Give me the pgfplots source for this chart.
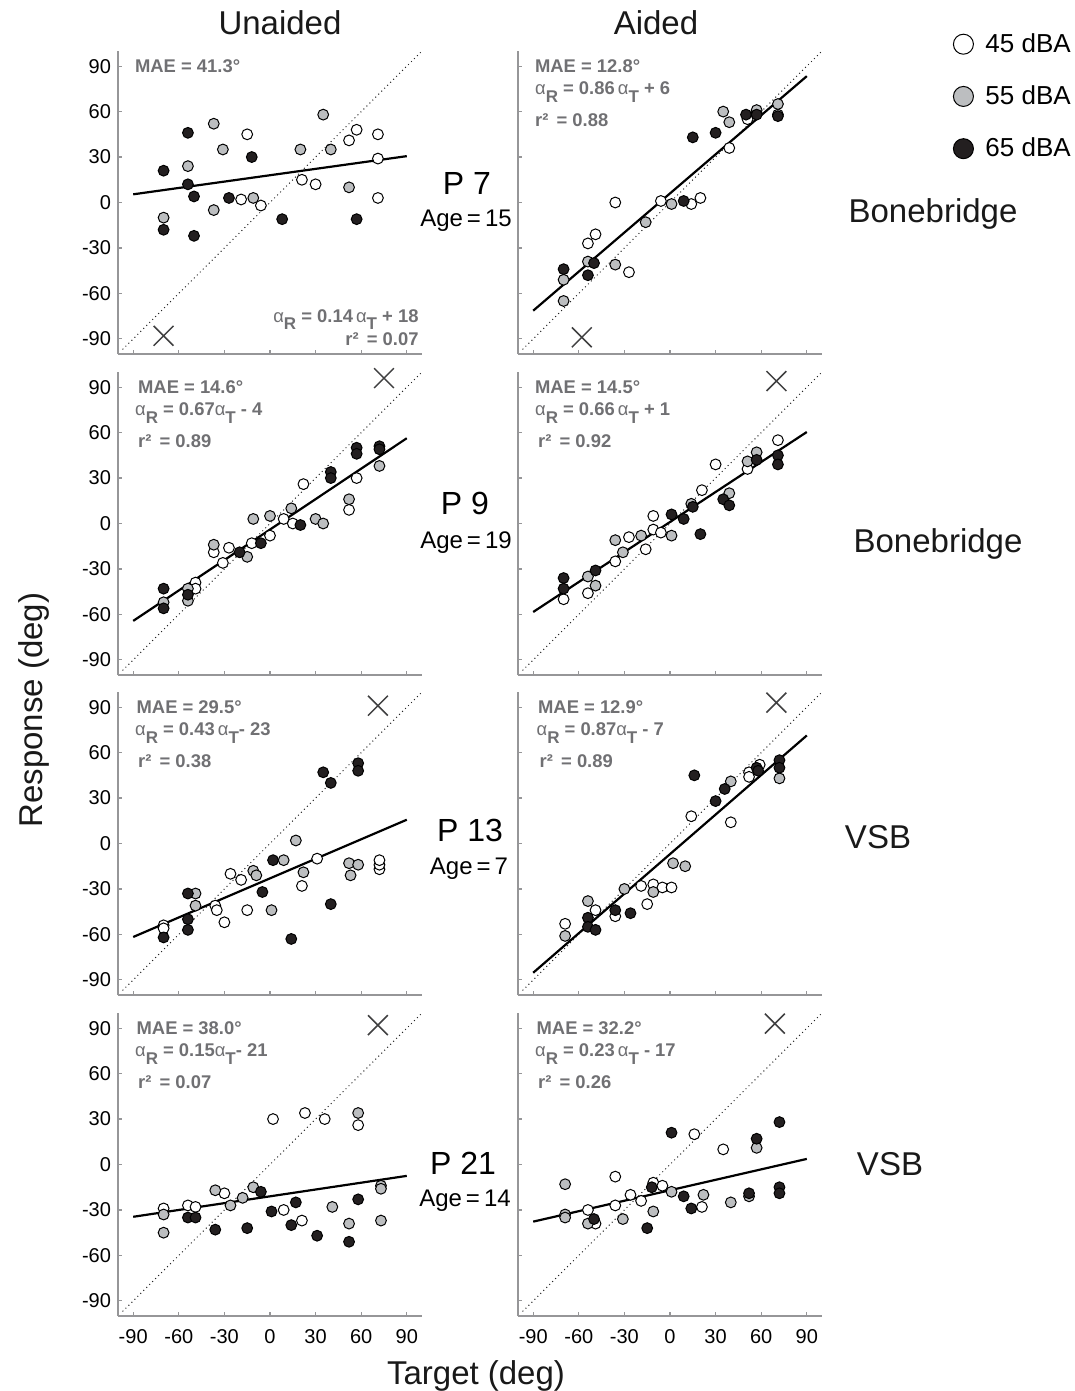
\documentclass[border=0pt]{standalone}
\usepackage{fontspec}
\setmainfont{Liberation Sans}
\usepackage{pgfplots}
\pgfplotsset{compat=1.18}
\definecolor{axgray}{RGB}{150,150,152}
\definecolor{txtgray}{RGB}{112,112,115}
\definecolor{ptgray}{RGB}{188,190,192}
\definecolor{ptblack}{RGB}{35,31,32}
\definecolor{xgray}{RGB}{64,64,65}
\newcommand{\al}{{\mdseries α}}
\newcommand{\sub}[1]{\raisebox{-0.75ex}{\fontsize{8.5}{8.5}\selectfont\bfseries #1}}
\pgfplotsset{
  panel/.style={
    scale only axis, width=152pt, height=151.5pt,
    xmin=-100, xmax=100, ymin=-100, ymax=100,
    axis lines*=left,
    axis line style={draw=axgray, line width=0.6pt, -},
    xtick={-90,-60,-30,0,30,60,90}, ytick={-90,-60,-30,0,30,60,90},
    xticklabels={}, yticklabels={},
    tick style={draw=axgray, line width=0.6pt},
    tick align=inside, major tick length=2.2pt,
    tick label style={font=\fontsize{10}{11}\selectfont, text=black},
    clip=false, anchor=south west,
  },
  ylab/.style={yticklabels={-90,-60,-30,0,30,60,90}},
  xlab/.style={xticklabels={-90,-60,-30,0,30,60,90}, xticklabel style={yshift=-3pt}},
  wpt/.style={only marks, mark=*, mark size=2.7pt, mark options={fill=white, draw=black, line width=0.5pt}},
  gpt/.style={only marks, mark=*, mark size=2.7pt, mark options={fill=ptgray, draw=black, line width=0.5pt}},
  bpt/.style={only marks, mark=*, mark size=2.7pt, mark options={fill=ptblack, draw=black, line width=0.5pt}},
  reg/.style={black, line width=1.1pt, no marks},
  diag/.style={black!85, line width=0.5pt, dash pattern=on 0.5pt off 1.6pt, no marks},
  xm/.style={only marks, mark=x, mark size=7pt, mark options={draw=xgray, line width=0.75pt}},
}
\tikzset{anno/.style={font=\fontsize{9.2}{10}\selectfont\bfseries, text=txtgray, inner sep=0pt}}
\begin{document}
\begin{tikzpicture}
\path[use as bounding box] (0pt,0pt) rectangle (537.5pt,-695.5pt);

% ---------------- Row 1 left: P7 unaided
\begin{axis}[panel, ylab, at={(59pt,-177pt)}]
\addplot[diag] coordinates {(-97,-97) (100,100)};
\addplot[wpt] coordinates {(-15,45) (-19,2) (-6,-2) (21,15) (30,12) (52,41) (57,48) (71,45) (71,29) (71,3)};
\addplot[gpt] coordinates {(-37,52) (-31,35) (-54,24) (-70,-10) (-37,-5) (-11,3) (20,35) (35,58) (40,35) (52,10)};
\addplot[bpt] coordinates {(-70,21) (-54,46) (-54,12) (-50,4) (-70,-18) (-50,-22) (-27,3) (-12,30) (8,-11) (57,-11)};
\addplot[reg] coordinates {(-90,5.4) (90,30.6)};
\addplot[xm] coordinates {(-70,-88)};
\node[anno, anchor=base west] at (axis cs:-89,86) {MAE = 41.3°};
\node[anno, anchor=base east] at (axis cs:98,-79) {\al\sub{R} = 0.14\,\al\sub{T} + 18};
\node[anno, anchor=base east] at (axis cs:98,-94.5) {r² \,= 0.07};
\end{axis}

% ---------------- Row 1 right: P7 aided
\begin{axis}[panel, at={(259pt,-177pt)},
  legend image code/.code={\draw[#1, mark size=5pt] plot coordinates {(0pt,0pt)};},
  legend style={at={(1.431,1.073)}, anchor=north west, draw=none, fill=none, inner sep=0pt,
    font=\fontsize{13}{15}\selectfont, row sep=11.2pt, legend cell align=left,
    /tikz/every odd column/.append style={column sep=4pt}}]
\addplot[diag, forget plot] coordinates {(-97,-97) (100,100)};
\addplot[wpt] coordinates {(-54,-27) (-49,-21) (-36,0) (-27,-46) (-6,1) (14,-1) (20,3) (39,36) (51,55) (71,58) (57,59)};
\addlegendentry{45 dBA}
\addplot[gpt] coordinates {(-70,-51) (-70,-65) (-54,-39) (-36,-41) (-16,-13) (1,-1) (35,60) (39,53) (57,61) (71,65)};
\addlegendentry{55 dBA}
\addplot[bpt] coordinates {(-70,-44) (-54,-48) (-50,-40) (9,1) (15,43) (30,46) (50,58) (57,58) (71,57)};
\addlegendentry{65 dBA}
\addplot[reg, forget plot] coordinates {(-90,-71.4) (90,83.4)};
\addplot[xm, forget plot] coordinates {(-58,-89)};
\node[anno, anchor=base west] at (axis cs:-89,86) {MAE = 12.8°};
\node[anno, anchor=base west] at (axis cs:-89,71) {\al\sub{R} = 0.86\,\al\sub{T} + 6};
\node[anno, anchor=base west] at (axis cs:-89,50) {r² \,= 0.88};
\end{axis}

% ---------------- Row 2 left: P9 unaided
\begin{axis}[panel, ylab, at={(59pt,-337.5pt)}]
\addplot[diag] coordinates {(-97,-97) (100,100)};
\addplot[wpt] coordinates {(-49,-39) (-49,-43) (-37,-19) (-31,-26) (-27,-16) (-12,-13) (0,-8) (9,3) (15,0) (22,26) (52,9) (57,30)};
\addplot[gpt] coordinates {(-70,-52) (-54,-43) (-54,-51) (-37,-14) (-15,-22) (-11,3) (0,5) (14,10) (30,3) (35,0) (52,16) (72,38)};
\addplot[bpt] coordinates {(-70,-43) (-70,-56) (-54,-47) (-20,-19) (-6,-13) (20,-1) (40,34) (40,30) (57,50) (57,46) (72,51) (72,49)};
\addplot[reg] coordinates {(-90,-64.3) (90,56.3)};
\addplot[xm] coordinates {(75,96)};
\node[anno, anchor=base west] at (axis cs:-87,86) {MAE = 14.6°};
\node[anno, anchor=base west] at (axis cs:-89,71) {\al\sub{R} = 0.67\al\sub{T} - 4};
\node[anno, anchor=base west] at (axis cs:-87,50) {r² \,= 0.89};
\end{axis}

% ---------------- Row 2 right: P9 aided
\begin{axis}[panel, at={(259pt,-337.5pt)}]
\addplot[diag] coordinates {(-97,-97) (100,100)};
\addplot[wpt] coordinates {(-70,-50) (-54,-46) (-36,-25) (-27,-9) (-16,-17) (-11,-4) (-11,5) (-6,-6) (21,22) (30,39) (51,36) (71,55)};
\addplot[gpt] coordinates {(-54,-35) (-49,-41) (-36,-11) (-31,-19) (-19,-8) (1,-8) (14,13) (39,20) (51,41) (57,47)};
\addplot[bpt] coordinates {(-70,-36) (-70,-43) (-49,-31) (1,6) (9,3) (15,11) (20,-7) (35,16) (39,12) (57,42) (71,45) (71,39)};
\addplot[reg] coordinates {(-90,-58.4) (90,60.4)};
\addplot[xm] coordinates {(70,94)};
\node[anno, anchor=base west] at (axis cs:-89,86) {MAE = 14.5°};
\node[anno, anchor=base west] at (axis cs:-89,71) {\al\sub{R} = 0.66\,\al\sub{T} + 1};
\node[anno, anchor=base west] at (axis cs:-87,50) {r² \,= 0.92};
\end{axis}

% ---------------- Row 3 left: P13 unaided
\begin{axis}[panel, ylab, at={(59pt,-497.5pt)}]
\addplot[diag] coordinates {(-97,-97) (100,100)};
\addplot[wpt] coordinates {(-70,-54) (-70,-56) (-36,-41) (-35,-44) (-30,-52) (-26,-20) (-19,-24) (-15,-44) (21,-28) (31,-10) (72,-17) (72,-14) (72,-11)};
\addplot[gpt] coordinates {(-49,-33) (-49,-41) (-11,-18) (-9,-21) (1,-44) (9,-11) (17,2) (22,-19) (52,-13) (53,-21) (58,-14)};
\addplot[bpt] coordinates {(-70,-62) (-54,-33) (-54,-50) (-54,-57) (-5,-32) (2,-11) (14,-63) (35,47) (40,40) (58,53) (58,48) (40,-40)};
\addplot[reg] coordinates {(-90,-61.7) (90,15.7)};
\addplot[xm] coordinates {(71,91)};
\node[anno, anchor=base west] at (axis cs:-88,86) {MAE = 29.5°};
\node[anno, anchor=base west] at (axis cs:-89,71) {\al\sub{R} = 0.43\,\al\sub{T}- 23};
\node[anno, anchor=base west] at (axis cs:-87,50) {r² \,= 0.38};
\end{axis}

% ---------------- Row 3 right: P13 aided
\begin{axis}[panel, at={(259pt,-497.5pt)}]
\addplot[diag] coordinates {(-97,-97) (100,100)};
\addplot[wpt] coordinates {(-69,-53) (-49,-44) (-36,-48) (-19,-28) (-15,-40) (-11,-27) (-5,-29) (1,-29) (14,18) (40,14) (52,47) (52,44) (59,52)};
\addplot[gpt] coordinates {(-69,-61) (-54,-38) (-30,-30) (-11,-32) (2,-13) (10,-15) (40,41) (72,43)};
\addplot[bpt] coordinates {(-54,-49) (-54,-55) (-49,-57) (-36,-44) (-26,-46) (16,45) (30,28) (36,36) (57,50) (58,48) (72,55) (72,50)};
\addplot[reg] coordinates {(-90,-85.3) (90,71.3)};
\addplot[xm] coordinates {(70,93)};
\node[anno, anchor=base west] at (axis cs:-87,86) {MAE = 12.9°};
\node[anno, anchor=base west] at (axis cs:-88,71) {\al\sub{R} = 0.87\al\sub{T} - 7};
\node[anno, anchor=base west] at (axis cs:-86,50) {r² \,= 0.89};
\end{axis}

% ---------------- Row 4 left: P21 unaided
\begin{axis}[panel, ylab, xlab, at={(59pt,-658pt)}]
\addplot[diag] coordinates {(-97,-97) (100,100)};
\addplot[wpt] coordinates {(-70,-29) (-54,-27) (-49,-28) (-30,-19) (2,30) (9,-30) (21,-37) (23,34) (36,30) (58,26)};
\addplot[gpt] coordinates {(-70,-33) (-70,-45) (-36,-17) (-26,-27) (-18,-22) (-11,-15) (41,-28) (52,-39) (58,34) (73,-14) (73,-16) (73,-37)};
\addplot[bpt] coordinates {(-54,-35) (-49,-35) (-36,-43) (-15,-42) (-6,-18) (1,-31) (14,-40) (17,-25) (31,-47) (52,-51) (58,-23)};
\addplot[reg] coordinates {(-90,-34.5) (90,-7.5)};
\addplot[xm] coordinates {(71,92)};
\node[anno, anchor=base west] at (axis cs:-88,86) {MAE = 38.0°};
\node[anno, anchor=base west] at (axis cs:-89,71) {\al\sub{R} = 0.15\al\sub{T}- 21};
\node[anno, anchor=base west] at (axis cs:-87,50) {r² \,= 0.07};
\end{axis}

% ---------------- Row 4 right: P21 aided
\begin{axis}[panel, xlab, at={(259pt,-658pt)}]
\addplot[diag] coordinates {(-97,-97) (100,100)};
\addplot[wpt] coordinates {(-54,-30) (-49,-39) (-36,-8) (-36,-27) (-26,-20) (-19,-24) (-11,-12) (-5,-14) (16,20) (21,-28) (35,10)};
\addplot[gpt] coordinates {(-69,-13) (-69,-33) (-69,-35) (-54,-39) (-31,-36) (-11,-31) (1,-18) (22,-20) (40,-25) (52,-21) (57,11)};
\addplot[bpt] coordinates {(-50,-36) (-15,-42) (-12,-15) (1,21) (9,-21) (14,-29) (57,17) (52,-19) (72,28) (72,-15) (72,-19)};
\addplot[reg] coordinates {(-90,-37.7) (90,3.7)};
\addplot[xm] coordinates {(69,93)};
\node[anno, anchor=base west] at (axis cs:-88,86) {MAE = 32.2°};
\node[anno, anchor=base west] at (axis cs:-89,71) {\al\sub{R} = 0.23\,\al\sub{T} - 17};
\node[anno, anchor=base west] at (axis cs:-87,50) {r² \,= 0.26};
\end{axis}

% ---------------- outer labels
\tikzset{big/.style={font=\fontsize{16.5}{18}\selectfont, inner sep=0pt, text=black!90},
         pl/.style={font=\fontsize{16}{18}\selectfont, inner sep=0pt, anchor=base},
         ag/.style={font=\fontsize{12}{14}\selectfont, inner sep=0pt, anchor=base}}
\node[big, anchor=base] at (140pt,-17.5pt) {Unaided};
\node[big, anchor=base] at (328pt,-17.5pt) {Aided};
\node[big, rotate=90] at (17pt,-355pt) {Response (deg)};
\node[big, anchor=base] at (238pt,-692pt) {Target (deg)};

\node[pl] at (233.5pt,-97.2pt) {P 7};
\node[ag] at (233pt,-113.3pt) {Age\,=\,15};
\node[pl] at (232.5pt,-257.2pt) {P 9};
\node[ag] at (233pt,-274.3pt) {Age\,=\,19};
\node[pl] at (235pt,-420.7pt) {P 13};
\node[ag] at (234.5pt,-437.3pt) {Age\,=\,7};
\node[pl] at (231.5pt,-587.2pt) {P 21};
\node[ag] at (232.5pt,-603.3pt) {Age\,=\,14};

\node[big, anchor=base] at (466.5pt,-111.5pt) {Bonebridge};
\node[big, anchor=base] at (469pt,-276pt) {Bonebridge};
\node[big, anchor=base] at (439pt,-424pt) {VSB};
\node[big, anchor=base] at (445pt,-587.5pt) {VSB};
\end{tikzpicture}
\end{document}
